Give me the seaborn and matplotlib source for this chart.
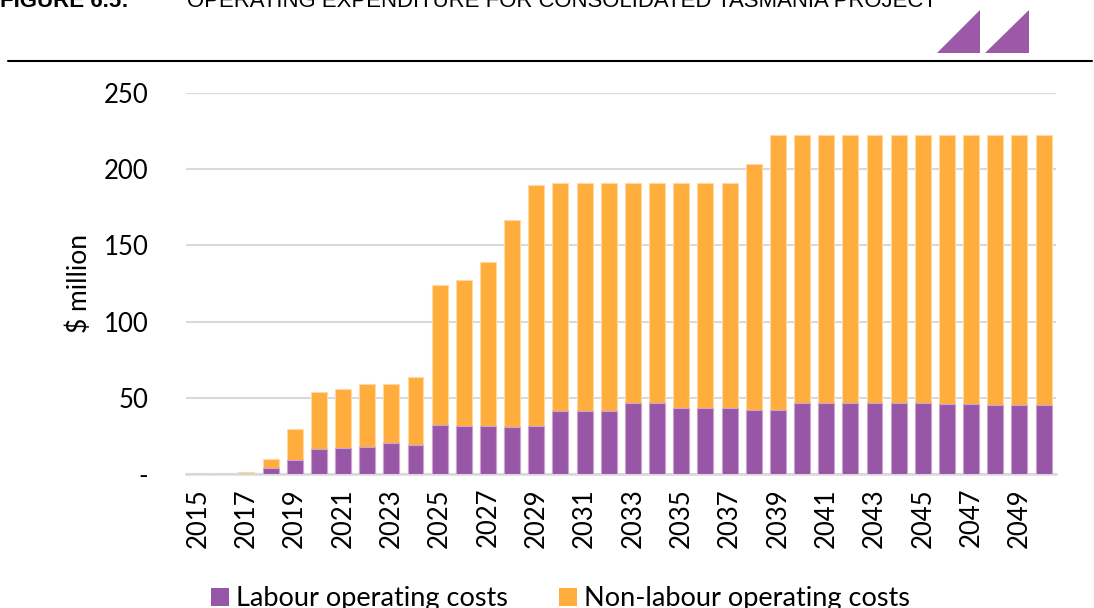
import matplotlib
matplotlib.use("Agg")
import matplotlib.pyplot as plt
from matplotlib.patches import Patch, Polygon
from matplotlib.lines import Line2D
import pandas as pd
import seaborn as sns

# ---- data ($ million) ----
years = list(range(2015, 2051))
labour = [0, 0, 0.3, 3.7, 9.2, 16.7, 17.3, 18.0, 20.2, 19.3,
          32.0, 31.6, 31.6, 31.1, 31.8, 41.4, 41.4, 41.4, 46.9, 46.9,
          43.4, 43.0, 43.0, 42.3, 42.3, 46.9, 46.9, 46.9, 46.7, 46.7,
          46.7, 46.0, 46.0, 45.4, 45.4, 45.4]
non_labour = [0, 0, 1.2, 6.3, 20.3, 37.3, 38.2, 41.0, 38.8, 44.2,
              92.0, 95.7, 107.4, 135.5, 157.7, 149.6, 149.6, 149.6, 144.1, 144.1,
              147.6, 148.0, 148.0, 161.0, 180.0, 175.4, 175.4, 175.4, 175.6, 175.6,
              175.6, 176.3, 176.3, 176.9, 176.9, 176.9]
series_names = ["Labour operating costs", "Non-labour operating costs"]
y_ticks = [0, 50, 100, 150, 200, 250]
y_tick_labels = ["-", "50", "100", "150", "200", "250"]

PURPLE = "#9856a6"
ORANGE = "#ffad3c"

df = pd.DataFrame({"year": [str(y) for y in years],
                   "labour": labour,
                   "non_labour": non_labour})
df["total"] = df["labour"] + df["non_labour"]

sns.set_style("white")
plt.rcParams["font.family"] = ["Lato", "DejaVu Sans"]
plt.rcParams["text.color"] = "black"
plt.rcParams["xtick.color"] = "black"
plt.rcParams["ytick.color"] = "black"
plt.rcParams["axes.labelcolor"] = "black"

fig = plt.figure(figsize=(10.94, 6.08), dpi=100)
ax = fig.add_axes([0.170, 0.2204, 0.795, 0.6266])

# stacked bars: full height in orange, labour part overlaid in purple
sns.barplot(data=df, x="year", y="total", color=ORANGE, width=0.66,
            edgecolor="#ffd9a0", linewidth=0.8, saturation=1, ax=ax, zorder=2)
sns.barplot(data=df, x="year", y="labour", color=PURPLE, width=0.66,
            edgecolor="#c9a6d1", linewidth=0.8, saturation=1, ax=ax, zorder=3)

ax.set_ylim(0, 250)
ax.set_xlim(-0.5, len(years) - 0.5)
ax.set_yticks(y_ticks)
ax.set_yticklabels(y_tick_labels, fontsize=18.5)
ax.set_xticks(range(len(years)))
ax.set_xticklabels([str(y) if (y - 2015) % 2 == 0 else "" for y in years],
                   rotation=90, fontsize=18.5)
ax.tick_params(axis="both", length=0)
ax.tick_params(axis="x", pad=10)
ax.tick_params(axis="y", pad=27)
ax.set_xlabel("")
ax.set_ylabel("$ million", fontsize=19)
ax.yaxis.set_label_coords(-0.108, 0.5)
ax.grid(axis="y", color="#d9d9d9", linewidth=1.5, zorder=0)
ax.set_axisbelow(True)
for s in ["left", "right", "top"]:
    ax.spines[s].set_visible(False)
ax.spines["bottom"].set_color("#d9d9d9")
ax.spines["bottom"].set_linewidth(1.8)

handles = [Patch(facecolor=PURPLE, edgecolor="none"),
           Patch(facecolor=ORANGE, edgecolor="none")]
fig.legend(handles, series_names, loc="center", ncol=2,
           bbox_to_anchor=(0.512, 0.015), frameon=False, fontsize=19.5,
           handlelength=0.67, handleheight=0.67, handletextpad=0.25,
           columnspacing=1.9)

# heading strip
fig.text(0.0, 1 - 7 / 608, "FIGURE 6.5:", fontsize=16, fontweight="bold",
         family="Liberation Sans", va="baseline", ha="left")
fig.text(187 / 1094, 1 - 7 / 608,
         "OPERATING EXPENDITURE FOR CONSOLIDATED TASMANIA PROJECT",
         fontsize=15.9, family="Liberation Sans", va="baseline", ha="left")
fig.add_artist(Line2D([8 / 1094, 1092 / 1094], [1 - 61 / 608, 1 - 61 / 608],
                      transform=fig.transFigure, color="black", linewidth=1.5))

# logo triangles
W, H = 1094, 608
for x0, x1 in [(937, 980), (985, 1029)]:
    tri = Polygon([(x0 / W, 1 - 53 / H), (x1 / W, 1 - 53 / H), (x1 / W, 1 - 10 / H)],
                  closed=True, transform=fig.transFigure, facecolor="#9b59a8",
                  edgecolor="none")
    fig.add_artist(tri)

fig.savefig("out.png", dpi=100)
